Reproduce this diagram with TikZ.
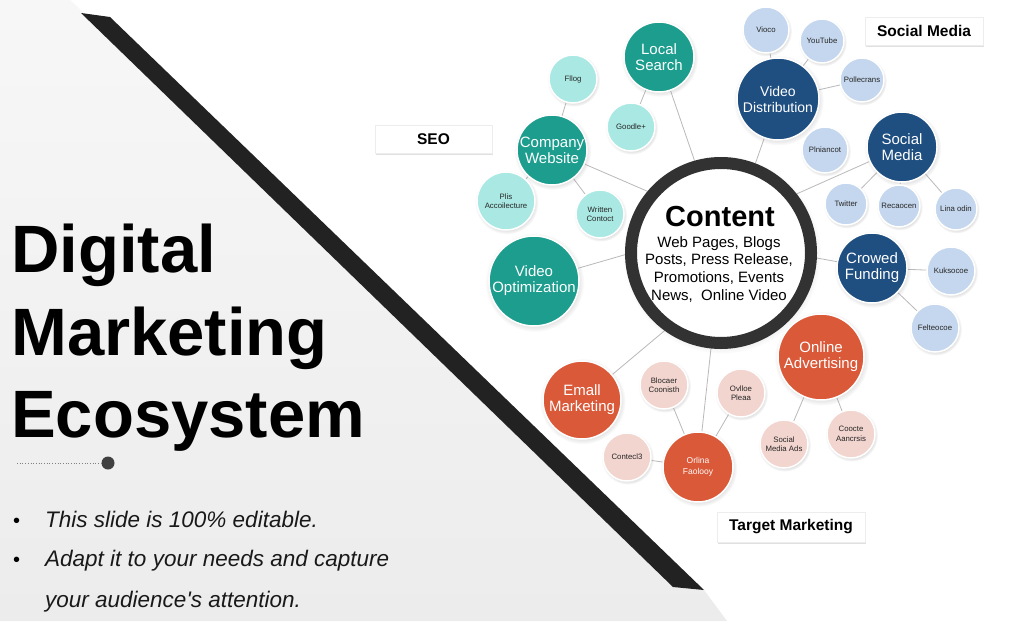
\documentclass[tikz,border=0pt]{standalone}
\usepackage{fontspec}
\setmainfont{Liberation Sans}
\usetikzlibrary{shadows,backgrounds}
\definecolor{tealD}{RGB}{28,157,142}
\definecolor{tealL}{RGB}{170,233,227}
\definecolor{blueD}{RGB}{31,78,128}
\definecolor{blueL}{RGB}{197,215,238}
\definecolor{orangeD}{RGB}{218,89,57}
\definecolor{pinkL}{RGB}{243,213,207}
\definecolor{ringgray}{RGB}{50,50,50}
\definecolor{stripe}{RGB}{34,34,34}
\definecolor{bgray}{RGB}{236,236,236}
\definecolor{lgray}{RGB}{247,247,247}
\pgfdeclarelayer{edges}
\pgfsetlayers{background,edges,main}
\begin{document}
\begin{tikzpicture}[x=1pt,y=-1pt,
  bub/.style={circle, inner sep=0pt, align=center, draw=white, line width=1.5pt,
    circular drop shadow={shadow xshift=0.6pt, shadow yshift=-1.2pt, opacity=0.25}},
  bigbub/.style={bub, font=\fontsize{15}{16}\selectfont, text=white},
  smallbub/.style={bub, font=\fontsize{7.8}{9.5}\selectfont, text=black!85},
  tealbig/.style={bigbub, fill=tealD},
  teallight/.style={smallbub, fill=tealL},
  bluebig/.style={bigbub, fill=blueD},
  bluelight/.style={smallbub, fill=blueL},
  orangebig/.style={bigbub, fill=orangeD},
  pinklight/.style={smallbub, fill=pinkL},
  conn/.style={draw=gray!55, line width=0.8pt},
  labelbox/.style={rectangle, fill=white, draw=black!7, line width=0.8pt, inner sep=0pt, font=\fontsize{15.5}{16}\bfseries,
    double copy shadow={shadow xshift=0.6pt, shadow yshift=-0.9pt, opacity=0.12, fill=black, draw=none}},
  titletext/.style={anchor=base west, inner sep=0pt, font=\fontsize{67}{67}\selectfont\bfseries},
  bullettext/.style={anchor=base west, inner sep=0pt, font=\fontsize{22.5}{24}\selectfont\itshape, text=black!90},
  ctrline/.style={anchor=base, inner sep=0pt, font=\fontsize{15}{17}\selectfont}
]
\useasboundingbox (0,0) rectangle (1024,621);
\begin{pgfonlayer}{background}
  \fill[white] (0,0) rectangle (1024,621);
  \shade[top color=lgray, bottom color=bgray] (0,0) -- (70,0) -- (704,590) -- (727,621) -- (0,621) -- cycle;
  \fill[stripe] (81,13) -- (110,17) -- (704,590) -- (673,587) -- cycle;
\end{pgfonlayer}

% title
\node[titletext] (t1) at (11,272) {Digital};
\node[titletext] (t2) at (11,355) {Marketing};
\node[titletext] (t3) at (11,437) {Ecosystem};
\coordinate (dl) at (17,463);
\node[circle, fill=black!75, minimum size=13pt, inner sep=0pt] (dot) at (108,463) {};
\draw[black!50, dotted, line width=0.7pt] (dl) -- (dot);

\node[anchor=base west, inner sep=0pt, font=\fontsize{20}{20}\selectfont] (bu1) at (13,527) {•};
\node[bullettext] (b1) at (45,527) {This slide is 100\% editable.};
\node[anchor=base west, inner sep=0pt, font=\fontsize{20}{20}\selectfont] (bu2) at (13,566) {•};
\node[bullettext] (b2) at (45,566) {Adapt it to your needs and capture};
\node[bullettext] (b3) at (45,607) {your audience\textquotesingle s attention.};

% label boxes
\node[labelbox, minimum width=117pt, minimum height=28pt] (seo) at (433.5,139) {SEO};
\node[labelbox, minimum width=118pt, minimum height=28pt] (smlabel) at (924,31) {Social Media};
\node[labelbox, minimum width=148pt, minimum height=30pt] (tmlabel) at (791,527) {Target Marketing};

% center
\node[circle, minimum size=180pt, draw=ringgray, line width=12pt, fill=white,
  circular drop shadow={shadow xshift=0.8pt, shadow yshift=-1.5pt, opacity=0.25}] (ctr) at (721,253) {};
\node[anchor=base, inner sep=0pt, font=\fontsize{29}{30}\selectfont\bfseries] (ctitle) at (720,226) {Content};
\node[ctrline] (c1) at (719,247) {Web Pages, Blogs};
\node[ctrline] (c2) at (719,264.5) {Posts, Press Release,};
\node[ctrline] (c3) at (719,282) {Promotions, Events};
\node[ctrline] (c4) at (719,300) {News,\ \ Online Video};

% SEO group
\node[tealbig, minimum size=70pt] (local) at (659,57) {Local\\Search};
\node[tealbig, minimum size=70pt] (company) at (552,150) {Company\\Website};
\node[tealbig, minimum size=90pt] (vopt) at (534,281) {Video\\Optimization};
\node[teallight, minimum size=48pt] (blog) at (573,79) {Fllog};
\node[teallight, minimum size=48pt] (google) at (631,127) {Goodle+};
\node[teallight, minimum size=58pt] (plis) at (506,201) {Plis\\Accoilecture};
\node[teallight, minimum size=48pt] (written) at (600,214) {Written\\Contoct};

% Social media group
\node[bluebig, minimum size=82pt, font=\fontsize{14}{16}\selectfont] (vdist) at (778,99) {Video\\Distribution};
\node[bluebig, minimum size=70pt] (social) at (902,147) {Social\\Media};
\node[bluebig, minimum size=70pt] (crowed) at (872,268) {Crowed\\Funding};
\node[bluelight, minimum size=46pt] (vioco) at (766,30) {Vioco};
\node[bluelight, minimum size=44pt] (youtube) at (822,41) {YouTube};
\node[bluelight, minimum size=44pt] (pollec) at (862,80) {Pollecrans};
\node[bluelight, minimum size=46pt] (plnian) at (825,150) {Plniancot};
\node[bluelight, minimum size=42pt] (twitter) at (846,204) {Twitter};
\node[bluelight, minimum size=42pt] (recao) at (899,206) {Recaocen};
\node[bluelight, minimum size=42pt] (lina) at (956,209) {Lina odin};
\node[bluelight, minimum size=48pt] (kuks) at (951,271) {Kuksocoe};
\node[bluelight, minimum size=48pt] (felte) at (935,328) {Felteocoe};

% Target marketing group
\node[orangebig, minimum size=86pt] (oadv) at (821,357) {Online\\Advertising};
\node[orangebig, minimum size=78pt] (email) at (582,400) {Emall\\Marketing};
\node[orangebig, minimum size=70pt, font=\fontsize{8.5}{11}\selectfont, text=white!90!pinkL] (fanboy) at (698,467) {Orlina\\Faolooy};
\node[pinklight, minimum size=48pt] (blocaer) at (664,385) {Blocaer\\Coonisth};
\node[pinklight, minimum size=48pt] (ovlloe) at (741,393) {Ovlloe\\Pleaa};
\node[pinklight, minimum size=48pt] (contecl) at (627,457) {Contecl3};
\node[pinklight, minimum size=48pt] (smads) at (784,444) {Social\\Media Ads};
\node[pinklight, minimum size=48pt] (coocte) at (851,434) {Coocte\\Aancrsis};

% connectors
\begin{pgfonlayer}{edges}
  \draw[conn] (local) -- (ctr.106);
  \draw[conn] (company) -- (ctr.140);
  \draw[conn] (vopt) -- (ctr.181);
  \draw[conn] (vdist) -- (ctr.69);
  \draw[conn] (social) -- (ctr.38);
  \draw[conn] (crowed) -- (ctr.-3);
  \draw[conn] (email) -- (ctr.234);
  \draw[conn] (fanboy) -- (ctr.264);
  \draw[conn] (local) -- (google);
  \draw[conn] (company) -- (blog);
  \draw[conn] (company) -- (plis);
  \draw[conn] (company) -- (written);
  \draw[conn] (vdist) -- (vioco);
  \draw[conn] (vdist) -- (youtube);
  \draw[conn] (vdist) -- (pollec);
  \draw[conn] (social) -- (twitter);
  \draw[conn] (social) -- (recao);
  \draw[conn] (social) -- (lina);
  \draw[conn] (crowed) -- (kuks);
  \draw[conn] (crowed) -- (felte);
  \draw[conn] (oadv) -- (smads);
  \draw[conn] (oadv) -- (coocte);
  \draw[conn] (fanboy) -- (blocaer);
  \draw[conn] (fanboy) -- (ovlloe);
  \draw[conn] (fanboy) -- (contecl);
\end{pgfonlayer}
\end{tikzpicture}
\end{document}
